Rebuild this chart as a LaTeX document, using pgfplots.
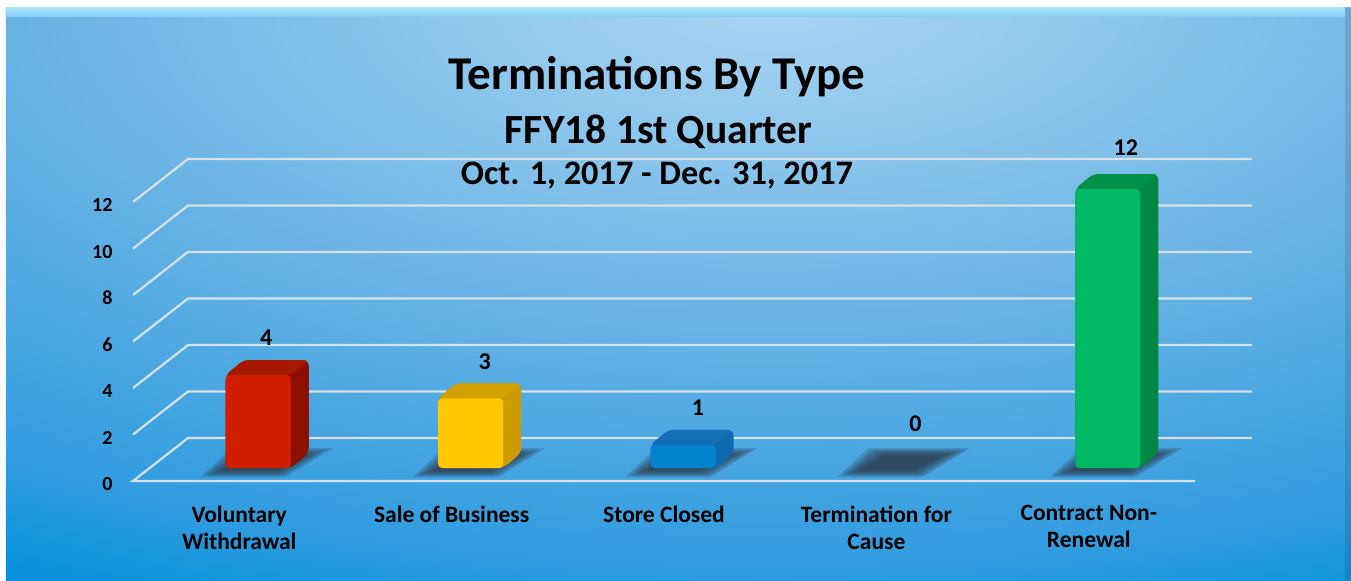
\documentclass[border=0pt]{standalone}
\usepackage{fontspec}
\setmainfont{Carlito}
\usepackage{pgfplots}
\usepackage{pgfplotstable}
\pgfplotsset{compat=1.18}
\definecolor{gridc}{RGB}{214,226,232}
\definecolor{shadowc}{RGB}{45,55,70}
\definecolor{redF}{RGB}{210,30,0}\definecolor{redT}{RGB}{165,25,0}\definecolor{redS}{RGB}{140,15,0}
\definecolor{yelF}{RGB}{255,200,0}\definecolor{yelT}{RGB}{212,162,0}\definecolor{yelS}{RGB}{205,155,0}
\definecolor{bluF}{RGB}{5,130,205}\definecolor{bluT}{RGB}{20,110,180}\definecolor{bluS}{RGB}{15,105,175}
\definecolor{greF}{RGB}{0,185,100}\definecolor{greT}{RGB}{0,145,72}\definecolor{greS}{RGB}{0,135,65}
\definecolor{bgA}{RGB}{170,214,243}\definecolor{bgB}{RGB}{108,181,229}\definecolor{bgC}{RGB}{46,155,223}\definecolor{bgD}{RGB}{8,146,220}
\definecolor{bandA}{RGB}{170,225,250}\definecolor{bandB}{RGB}{135,205,242}
\pgfdeclareradialshading{bgshade}{\pgfpoint{0bp}{0bp}}{color(0bp)=(bgA);color(11.75bp)=(bgB);color(22bp)=(bgC);color(25bp)=(bgD);color(50bp)=(bgD)}
\pgfplotstableread{
x v dx dy
0 4 27 50
1 3 33 50
2 1 34 50
3 0 39 57
4 12 37 54
}\terminations
\pgfplotsset{shadowlayer/.style={forget plot,fill=shadowc,draw=none,opacity=.19,rounded corners=2pt}}
\newcommand\barshadow[1]{%
\addplot[shadowlayer,xshift=#1pt] coordinates {(-.184,.172)(.221,.172)(.443,1.419)(-.038,1.419)} --cycle;
\addplot[shadowlayer,xshift=#1pt] coordinates {(-.169,.215)(.214,.215)(.423,1.372)(-.025,1.372)} --cycle;
\addplot[shadowlayer,xshift=#1pt] coordinates {(-.154,.258)(.207,.258)(.403,1.320)(-.014,1.320)} --cycle;
\addplot[shadowlayer,xshift=#1pt] coordinates {(-.139,.301)(.199,.301)(.384,1.273)(-.001,1.273)} --cycle;
\addplot[shadowlayer,xshift=#1pt] coordinates {(-.124,.344)(.192,.344)(.364,1.222)(.011,1.222)} --cycle;
\addplot[shadowlayer,xshift=#1pt] coordinates {(-.110,.387)(.184,.387)(.345,1.174)(.023,1.174)} --cycle;
\addplot[shadowlayer,xshift=#1pt] coordinates {(-.095,.430)(.177,.430)(.325,1.123)(.035,1.123)} --cycle;
\addplot[shadowlayer,xshift=#1pt] coordinates {(-.080,.473)(.169,.473)(.306,1.075)(.047,1.075)} --cycle;
}
\begin{document}
\begin{tikzpicture}
\begin{axis}[
  scale only axis,width=1062pt,height=279pt,
  xmin=-0.5,xmax=4.5,ymin=0,ymax=12,clip=false,axis on top,
  axis line style={draw=none},tick style={draw=none},
  xtick={0,1,2,3,4},
  xticklabels={Voluntary\\Withdrawal,Sale of Business,Store Closed,Termination for\\Cause,Contract Non-\\Renewal},
  x tick label style={align=center,font=\fontsize{23.5}{27}\selectfont\bfseries,anchor=north,yshift=-21pt,text=black},
  ytick={0,2,4,6,8,10,12},
  y tick label style={font=\fontsize{20}{24}\selectfont\bfseries,anchor=east,xshift=-17pt,yshift=-3pt,text=black},
  /pgf/number format/assume math mode=true,
]
% page and background
\path[fill=white] (axis cs:-1.1262,-4.258) rectangle (axis cs:5.2345,20.688);
\begin{scope}
\clip (axis cs:-1.0980,-4.258) rectangle (axis cs:5.2345,20.344);
\path[shading=bgshade] (axis cs:-4.6,-7.35) rectangle (axis cs:9.6,48.7);
\path[top color=bandA,bottom color=bandB] (axis cs:-1.0980,19.99) rectangle (axis cs:5.2059,20.344);
\path[fill=black,opacity=.1] (axis cs:5.2059,-4.258) rectangle (axis cs:5.2345,20.344);
\end{scope}
% floor and wall lines
\addplot[forget plot,gridc,line width=2.2pt] coordinates {(4.5,0)(-.5,0)(-.241,1.85)(4.768,1.85)};
\addplot[forget plot,gridc,line width=2.2pt] coordinates {(-.5,2)(-.241,3.85)(4.768,3.85)};
\addplot[forget plot,gridc,line width=2.2pt] coordinates {(-.5,4)(-.241,5.85)(4.768,5.85)};
\addplot[forget plot,gridc,line width=2.2pt] coordinates {(-.5,6)(-.241,7.85)(4.768,7.85)};
\addplot[forget plot,gridc,line width=2.2pt] coordinates {(-.5,8)(-.241,9.85)(4.768,9.85)};
\addplot[forget plot,gridc,line width=2.2pt] coordinates {(-.5,10)(-.241,11.85)(4.768,11.85)};
\addplot[forget plot,gridc,line width=2.2pt] coordinates {(-.5,12)(-.241,13.85)(4.768,13.85)};
% shadows
\barshadow{0}\barshadow{212.4}\barshadow{424.8}\barshadow{637.2}\barshadow{849.6}
% bar silhouettes and tops
\addplot[forget plot,fill=redS,draw=none,rounded corners=6pt] coordinates {(-.0635,.559)(.2425,.559)(.3275,1.204)(.3275,5.204)(.0215,5.204)(-.0635,4.559)} --cycle;
\addplot[forget plot,fill=redT,draw=none,rounded corners=5pt] coordinates {(-.0635,4.559)(.0215,5.204)(.3275,5.204)(.2425,4.559)} --cycle;
\addplot[forget plot,fill=yelS,draw=none,rounded corners=6pt] coordinates {(.9365,.559)(1.2425,.559)(1.3275,1.204)(1.3275,4.204)(1.0215,4.204)(.9365,3.559)} --cycle;
\addplot[forget plot,fill=yelT,draw=none,rounded corners=5pt] coordinates {(.9365,3.559)(1.0215,4.204)(1.3275,4.204)(1.2425,3.559)} --cycle;
\addplot[forget plot,fill=bluS,draw=none,rounded corners=6pt] coordinates {(1.9365,.559)(2.2425,.559)(2.3275,1.204)(2.3275,2.204)(2.0215,2.204)(1.9365,1.559)} --cycle;
\addplot[forget plot,fill=bluT,draw=none,rounded corners=5pt] coordinates {(1.9365,1.559)(2.0215,2.204)(2.3275,2.204)(2.2425,1.559)} --cycle;
\addplot[forget plot,fill=greS,draw=none,rounded corners=6pt] coordinates {(3.9365,.559)(4.2425,.559)(4.3275,1.204)(4.3275,13.204)(4.0215,13.204)(3.9365,12.559)} --cycle;
\addplot[forget plot,fill=greT,draw=none,rounded corners=5pt] coordinates {(3.9365,12.559)(4.0215,13.204)(4.3275,13.204)(4.2425,12.559)} --cycle;
% bar fronts
\addplot[forget plot,ybar,bar width=65pt,bar shift=19pt,yshift=13pt,fill=redF,draw=none,rounded corners=4pt] coordinates {(0,4)};
\addplot[forget plot,ybar,bar width=65pt,bar shift=19pt,yshift=13pt,fill=yelF,draw=none,rounded corners=4pt] coordinates {(1,3)};
\addplot[forget plot,ybar,bar width=65pt,bar shift=19pt,yshift=13pt,fill=bluF,draw=none,rounded corners=4pt] coordinates {(2,1)};
\addplot[forget plot,ybar,bar width=65pt,bar shift=19pt,yshift=13pt,fill=greF,draw=none,rounded corners=4pt] coordinates {(4,12)};
% data labels
\addplot[forget plot,draw=none,mark=none,nodes near coords,
  visualization depends on={\thisrow{dx}\as\dxval},
  visualization depends on={\thisrow{dy}\as\dyval},
  every node near coord/.append style={font=\fontsize{24}{26}\selectfont\bfseries,text=black,anchor=center,xshift=\dxval pt,yshift=\dyval pt}]
  table[x=x,y=v] {\terminations};
% titles
\node[font=\fontsize{47}{50}\selectfont\bfseries,text=black] at (axis cs:1.967,17.37) {Terminations By Type};
\node[font=\fontsize{41.5}{46}\selectfont\bfseries,text=black] at (axis cs:1.975,15.01) {FFY18 1st Quarter};
\node[font=\fontsize{34.3}{38}\selectfont\bfseries,text=black] at (axis cs:1.967,13.13) {Oct. 1, 2017 - Dec. 31, 2017};
\end{axis}
\end{tikzpicture}
\end{document}
